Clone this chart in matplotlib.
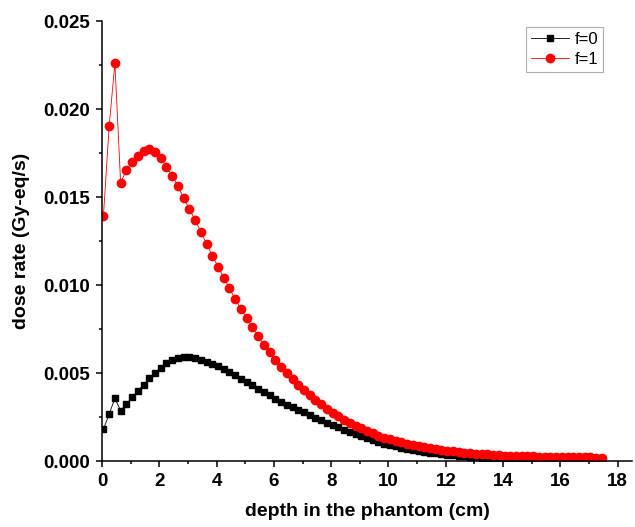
import numpy as np
import matplotlib
matplotlib.use('Agg')
import matplotlib.pyplot as plt
from matplotlib.ticker import MultipleLocator

plt.rcParams['font.family'] = ['Liberation Sans', 'DejaVu Sans']

# depth grid (cm)
depth = [0.05, 0.25, 0.45, 0.65, 0.85, 1.05, 1.25, 1.45, 1.65, 1.85,
         2.05, 2.25, 2.45, 2.65, 2.85, 3.05, 3.25, 3.45, 3.65, 3.85,
         4.05, 4.25, 4.45, 4.65, 4.85, 5.05, 5.25, 5.45, 5.65, 5.85,
         6.05, 6.25, 6.45, 6.65, 6.85, 7.05, 7.25, 7.45, 7.65, 7.85,
         8.05, 8.25, 8.45, 8.65, 8.85, 9.05, 9.25, 9.45, 9.65, 9.85,
         10.05, 10.25, 10.45, 10.65, 10.85, 11.05, 11.25, 11.45, 11.65, 11.85,
         12.05, 12.25, 12.45, 12.65, 12.85, 13.05, 13.25, 13.45, 13.65, 13.85,
         14.05, 14.25, 14.45, 14.65, 14.85, 15.05, 15.25, 15.45, 15.65, 15.85,
         16.05, 16.25, 16.45, 16.65, 16.85, 17.05, 17.25, 17.45]

# f=0 dose rate (Gy-eq/s)
dose_f0 = [0.00180, 0.00267, 0.00356, 0.00286, 0.00324, 0.00362, 0.00398, 0.00434, 0.00470, 0.00502,
           0.00530, 0.00555, 0.00572, 0.00584, 0.00590, 0.00590, 0.00584, 0.00575, 0.00565, 0.00552,
           0.00537, 0.00521, 0.00504, 0.00486, 0.00468, 0.00449, 0.00430, 0.00411, 0.00392, 0.00373,
           0.00354, 0.00337, 0.00321, 0.00307, 0.00292, 0.00277, 0.00262, 0.00247, 0.00233, 0.00218,
           0.00205, 0.00191, 0.00178, 0.00165, 0.00152, 0.00140, 0.00129, 0.00118, 0.00108, 0.00099,
           0.00091, 0.00083, 0.00076, 0.00069, 0.00063, 0.00057, 0.00052, 0.00047, 0.00043, 0.00039,
           0.00035, 0.00032, 0.00029, 0.00026, 0.00023, 0.00021, 0.00019, 0.00017, 0.00015, 0.00014,
           0.00012, 0.00011, 0.00010, 0.00009, 0.00008, 0.00007, 0.00006, 0.00006, 0.00005, 0.00005,
           0.00004, 0.00004, 0.00003, 0.00003, 0.00003, 0.00002, 0.00002, 0.00002]

# f=1 dose rate (Gy-eq/s)
dose_f1 = [0.01392, 0.01902, 0.02261, 0.01581, 0.01652, 0.01701, 0.01733, 0.01761, 0.01773, 0.01754,
           0.01722, 0.01672, 0.01621, 0.01563, 0.01493, 0.01432, 0.01369, 0.01302, 0.01235, 0.01165,
           0.01104, 0.01042, 0.00981, 0.00919, 0.00864, 0.00811, 0.00760, 0.00710, 0.00661, 0.00618,
           0.00574, 0.00534, 0.00500, 0.00464, 0.00432, 0.00403, 0.00373, 0.00348, 0.00324, 0.00297,
           0.00274, 0.00256, 0.00235, 0.00218, 0.00201, 0.00186, 0.00170, 0.00157, 0.00144, 0.00132,
           0.00123, 0.00114, 0.00106, 0.00098, 0.00091, 0.00084, 0.00078, 0.00072, 0.00067, 0.00062,
           0.00058, 0.00054, 0.00050, 0.00047, 0.00044, 0.00041, 0.00039, 0.00037, 0.00035, 0.00033,
           0.00031, 0.00030, 0.00029, 0.00028, 0.00027, 0.00026, 0.00025, 0.00024, 0.00024, 0.00023,
           0.00022, 0.00022, 0.00021, 0.00021, 0.00020, 0.00020, 0.00019, 0.00019]

fig = plt.figure(figsize=(6.35, 5.27), dpi=100)
ax = fig.add_axes([102 / 635, 1 - 461 / 527, 530 / 635, 440 / 527])

ax.plot(depth, dose_f0, color='black', marker='s', markersize=4.6, linewidth=0.6,
        label='f=0')
ax.plot(depth, dose_f1, color='#ff0000', marker='o', markersize=6, linewidth=0.6,
        label='f=1')

ax.set_xlim(0, 18.5)
ax.set_ylim(0, 0.025)
ax.xaxis.set_major_locator(MultipleLocator(2))
ax.xaxis.set_minor_locator(MultipleLocator(1))
ax.yaxis.set_major_locator(MultipleLocator(0.005))
ax.yaxis.set_minor_locator(MultipleLocator(0.0025))
ax.yaxis.set_major_formatter(matplotlib.ticker.FormatStrFormatter('%.3f'))

for s in ['top', 'right']:
    ax.spines[s].set_visible(False)
for s in ['left', 'bottom']:
    ax.spines[s].set_linewidth(1.1)

ax.tick_params(which='major', direction='out', length=4, width=1.1,
               labelsize=13.5, pad=5)
ax.tick_params(which='minor', direction='out', length=2.5, width=1.1)
for lbl in ax.get_xticklabels() + ax.get_yticklabels():
    lbl.set_fontweight('bold')

ax.set_xlabel('depth in the phantom (cm)', fontsize=14, fontweight='bold', labelpad=9)
ax.set_ylabel('dose rate (Gy-eq/s)', fontsize=14, fontweight='bold', labelpad=9)

leg = ax.legend(loc='upper right', bbox_to_anchor=(603 / 635, 1 - 27 / 527),
                bbox_transform=fig.transFigure, fontsize=12, frameon=True,
                fancybox=False, handlelength=2.3, handletextpad=0.3,
                borderpad=0.3, labelspacing=0.3, borderaxespad=0)
leg.get_frame().set_edgecolor('#999999')
leg.get_frame().set_linewidth(0.8)

fig.savefig('out.png', dpi=100)
